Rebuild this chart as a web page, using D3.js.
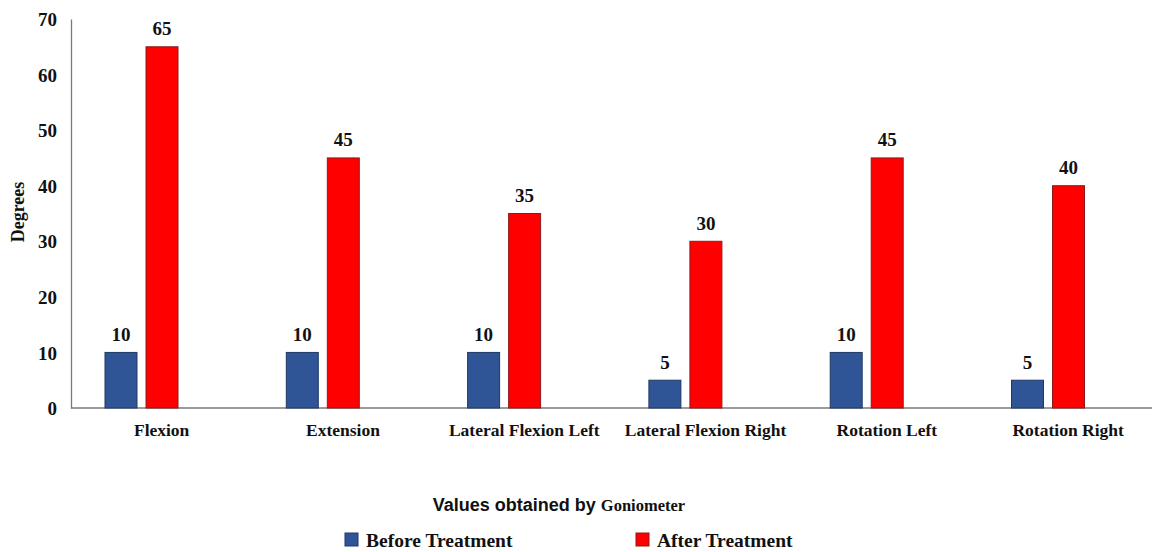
<!DOCTYPE html>
<html>
<head>
<meta charset="utf-8">
<script src="https://cdn.jsdelivr.net/npm/d3@7"></script>
<style>
  html, body { margin: 0; padding: 0; background: #fff; }
  svg { display: block; }
  .serif { font-family: "Liberation Serif", "Times New Roman", serif; font-weight: bold; fill: #111; }
  .sans { font-family: "Liberation Sans", Arial, sans-serif; font-weight: bold; fill: #111; }
</style>
</head>
<body>
<svg id="chart" width="1152" height="552"></svg>
<script>
// Range of motion measured with a goniometer (degrees)
const categories = ["Flexion", "Extension", "Lateral Flexion Left", "Lateral Flexion Right", "Rotation Left", "Rotation Right"];
const seriesNames = ["Before Treatment", "After Treatment"];
const beforeValues = [10, 10, 10, 5, 10, 5];
const afterValues = [65, 45, 35, 30, 45, 40];
const yTicks = [0, 10, 20, 30, 40, 50, 60, 70];

const colors = { "Before Treatment": "#2F5597", "After Treatment": "#FF0000" };
const strokes = { "Before Treatment": "#1F3864", "After Treatment": "#8B1A1A" };

const svg = d3.select("#chart");
const plotLeft = 71, plotTop = 19, plotBottom = 408;

const x = d3.scaleBand().domain(categories).range([plotLeft, plotLeft + 181.3 * 6]).paddingInner(0).paddingOuter(0);
const x1 = d3.scaleBand().domain(seriesNames).range([34, 107]).paddingInner(0.22).paddingOuter(0);
const y = d3.scaleLinear().domain([0, 70]).range([plotBottom, plotTop]);

const rows = categories.map((c, i) => ({ cat: c, vals: [
  { s: seriesNames[0], v: beforeValues[i] },
  { s: seriesNames[1], v: afterValues[i] }
]}));

// Y axis: line with labels only
const yAxis = d3.axisLeft(y).tickValues(yTicks).tickSize(0).tickPadding(14);
const gy = svg.append("g").attr("transform", `translate(${plotLeft},0)`).call(yAxis);
gy.select(".domain").attr("stroke", "#7a7a7a").attr("stroke-width", 1.3);
gy.selectAll("text").attr("class", "serif").style("font-size", "19px").attr("dy", "0.35em");

// X axis baseline across the full width
svg.append("line")
  .attr("x1", plotLeft).attr("x2", 1152).attr("y1", y(0)).attr("y2", y(0))
  .attr("stroke", "#7a7a7a").attr("stroke-width", 1.3);

// Category labels
svg.append("g").selectAll("text").data(categories).join("text")
  .attr("class", "serif").style("font-size", "17.5px")
  .attr("text-anchor", "middle")
  .attr("x", d => x(d) + x.bandwidth() / 2)
  .attr("y", 436)
  .text(d => d);

// Bars
const groups = svg.append("g").selectAll("g").data(rows).join("g")
  .attr("transform", d => `translate(${x(d.cat)},0)`);

groups.selectAll("rect").data(d => d.vals).join("rect")
  .attr("x", d => x1(d.s))
  .attr("width", x1.bandwidth())
  .attr("y", d => y(d.v))
  .attr("height", d => y(0) - y(d.v))
  .attr("fill", d => colors[d.s])
  .attr("stroke", d => strokes[d.s])
  .attr("stroke-width", 1);

// Value labels
groups.selectAll("text").data(d => d.vals).join("text")
  .attr("class", "serif").style("font-size", "19px")
  .attr("text-anchor", "middle")
  .attr("x", d => x1(d.s) + x1.bandwidth() / 2)
  .attr("y", d => y(d.v) - 11.5)
  .text(d => d.v);

// Y axis title
svg.append("text")
  .attr("class", "serif").style("font-size", "18px")
  .attr("text-anchor", "middle")
  .attr("transform", "translate(24,212) rotate(-90)")
  .text("Degrees");

// X axis title (mixed fonts)
const title = svg.append("text").attr("text-anchor", "middle").attr("x", 559).attr("y", 511);
title.append("tspan").attr("class", "sans").style("font-size", "18px").text("Values obtained by ");
title.append("tspan").attr("class", "serif").style("font-size", "16.5px").text("Goniometer");

// Legend
const legendX = [345, 636];
const legend = svg.append("g").selectAll("g").data(seriesNames).join("g")
  .attr("transform", (d, i) => `translate(${legendX[i]},533)`);
legend.append("rect")
  .attr("width", 13).attr("height", 13)
  .attr("fill", d => colors[d]).attr("stroke", d => strokes[d]).attr("stroke-width", 1);
legend.append("text")
  .attr("class", "serif").style("font-size", "19.5px")
  .attr("x", 21).attr("y", 14)
  .text(d => d);
</script>
</body>
</html>
